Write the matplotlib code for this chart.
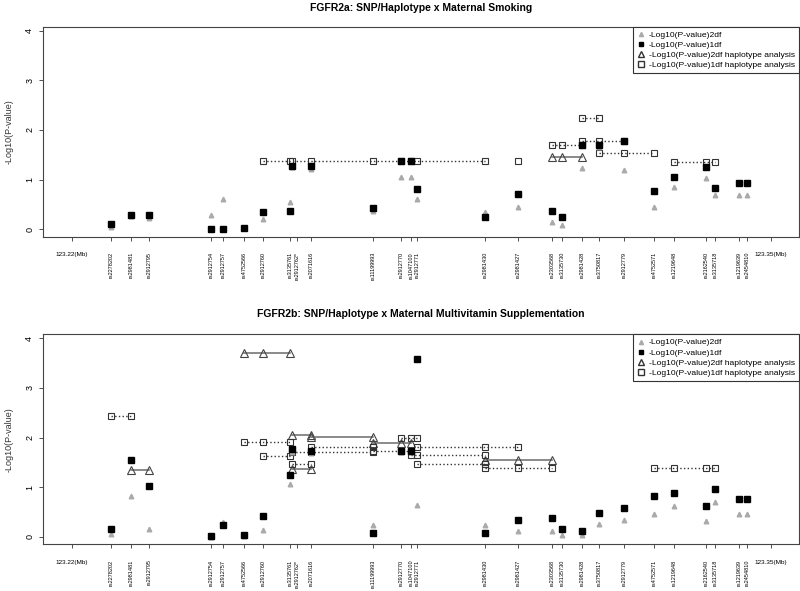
import matplotlib
matplotlib.use("Agg")
import matplotlib.pyplot as plt
from matplotlib.lines import Line2D

plt.rcParams['font.family'] = ['Liberation Sans', 'DejaVu Sans']

# SNPs along FGFR2 (position in Mb)
snps = ["rs2278202", "rs2981481", "rs2912795", "rs2912754", "rs2912757", "rs4752566",
        "rs2912760", "rs3135761", "rs2912762*", "rs2071616", "rs11199993", "rs2912770",
        "rs1047100", "rs2912771", "rs2981430", "rs2981427", "rs2303568", "rs3135730",
        "rs2981428", "rs3750817", "rs2912779", "rs4752571", "rs1219648", "rs2162540",
        "rs3135718", "rs1219639", "rs2454810"]
pos = [123.22725, 123.23102, 123.23437, 123.24595, 123.24818, 123.25203,
       123.25551, 123.26058, 123.26090, 123.26443, 123.27596, 123.28122,
       123.28308, 123.28414, 123.29689, 123.30302, 123.30935, 123.31120,
       123.31487, 123.31803, 123.32273, 123.32825, 123.33191, 123.33792,
       123.33965, 123.34411, 123.34560]
# label position (starred SNP label moved a bit to the right)
label_pos = pos[:8] + [123.26183] + pos[9:]

# FGFR2a: maternal smoking
smoke_2df = [0.05, 0.27, 0.23, 0.29, 0.60, 0.02, 0.20, 0.54, 1.25, 1.22, 0.36, 1.06, 1.06, 0.60,
             0.35, 0.44, 0.14, 0.09, 1.24, 1.65, 1.20, 0.44, 0.86, 1.04, 0.68, 0.70, 0.70]
smoke_1df = [0.11, 0.28, 0.28, 0.01, 0.01, 0.03, 0.35, 0.37, 1.28, 1.28, 0.42, 1.38, 1.38, 0.82,
             0.25, 0.72, 0.37, 0.24, 1.69, 1.69, 1.78, 0.78, 1.06, 1.26, 0.84, 0.93, 0.93]
smoke_h1_from = ["rs2912760", "rs2981427", "rs2303568", "rs2981428", "rs2981428", "rs3750817", "rs1219648"]
smoke_h1_to = ["rs2981430", "rs2981427", "rs2981428", "rs2912779", "rs3750817", "rs4752571", "rs3135718"]
smoke_h1_val = [1.37, 1.37, 1.69, 1.78, 2.25, 1.54, 1.35]
smoke_h2_from = ["rs2303568"]
smoke_h2_to = ["rs2981428"]
smoke_h2_val = [1.46]

# FGFR2b: maternal multivitamin supplementation
vit_2df = [0.05, 0.82, 0.15, 0.00, 0.29, 0.02, 0.13, 1.07, 1.70, 1.68, 0.24, 1.70, 1.70, 0.64,
           0.23, 0.11, 0.11, 0.04, 0.04, 0.25, 0.34, 0.47, 0.63, 0.32, 0.70, 0.47, 0.47]
vit_1df = [0.15, 1.55, 1.03, 0.01, 0.23, 0.04, 0.41, 1.24, 1.77, 1.72, 0.07, 1.73, 1.73, 3.58,
           0.08, 0.33, 0.37, 0.15, 0.12, 0.49, 0.58, 0.82, 0.89, 0.62, 0.97, 0.76, 0.76]
vit_h1_from = ["rs2278202", "rs4752566", "rs2912760", "rs2912762*", "rs2912762*", "rs2071616",
               "rs11199993", "rs2912770", "rs2912771", "rs1047100", "rs2912771", "rs2981430", "rs4752571"]
vit_h1_to = ["rs2981481", "rs3135761", "rs3135761", "rs2071616", "rs11199993", "rs11199993",
             "rs1047100", "rs2912771", "rs2981427", "rs2981430", "rs2981430", "rs2303568", "rs3135718"]
vit_h1_val = [2.44, 1.91, 1.63, 1.47, 1.70, 1.81, 1.73, 1.99, 1.80, 1.65, 1.46, 1.38, 1.38]
vit_h2_from = ["rs2981481", "rs4752566", "rs2912762*", "rs2071616", "rs2912762*", "rs11199993", "rs2981430"]
vit_h2_to = ["rs2912795", "rs3135761", "rs2071616", "rs11199993", "rs2071616", "rs1047100", "rs2303568"]
vit_h2_val = [1.35, 3.70, 2.05, 2.01, 1.37, 1.90, 1.55]

legend_labels = ["-Log10(P-value)2df", "-Log10(P-value)1df",
                 "-Log10(P-value)2df haplotype analysis", "-Log10(P-value)1df haplotype analysis"]

idx = {s: i for i, s in enumerate(snps)}


def panel(ax, v2, v1, h1_from, h1_to, h1_val, h2_from, h2_to, h2_val):
    # haplotype windows
    for a, b, v in zip(h2_from, h2_to, h2_val):
        xs = pos[idx[a]:idx[b] + 1]
        ax.plot(xs, [v] * len(xs), '-', color='#777777', lw=1.2, marker='^', ms=5.5,
                mfc='none', mec='#444444', mew=0.8)
    for a, b, v in zip(h1_from, h1_to, h1_val):
        xs = pos[idx[a]:idx[b] + 1]
        ax.plot(xs, [v] * len(xs), ':', color='#333333', lw=1.0, marker='s', ms=5,
                mfc='none', mec='#333333', mew=0.8)
    # single SNP results
    ax.plot(pos, v2, '^', color='#aaaaaa', ms=3.3, ls='none')
    ax.plot(pos, v1, 's', color='black', ms=4, ls='none')

    ax.set_xlim(123.21472, 123.3552)
    ax.set_ylim(-0.15, 4.08)
    ax.set_xticks([123.22] + label_pos + [123.35])
    labs = ax.set_xticklabels(["123.22(Mb)"] + snps + ["123.35(Mb)"])
    for t in labs[1:-1]:
        t.set_rotation(90)
        t.set_va('top')
        t.set_fontsize(4.0)
    for t in (labs[0], labs[-1]):
        t.set_fontsize(4.6)
    ax.tick_params(axis='x', length=3, width=0.6, pad=8, color='#333333')
    ax.set_yticks(range(5))
    ax.set_yticklabels([str(i) for i in range(5)], rotation=90, va='center', fontsize=6.5)
    ax.tick_params(axis='y', length=3, width=0.6, pad=3.5, color='#333333')
    for s in ax.spines.values():
        s.set_color('#444444')
        s.set_linewidth(0.8)

    handles = [Line2D([], [], ls='none', marker='^', color='#aaaaaa', ms=3),
               Line2D([], [], ls='none', marker='s', color='black', ms=3.5),
               Line2D([], [], ls='none', marker='^', mfc='none', mec='#333333', ms=5),
               Line2D([], [], ls='none', marker='s', mfc='none', mec='#333333', ms=4.5)]
    leg = ax.legend(handles, legend_labels, loc='upper right', borderaxespad=0, fancybox=False,
                    fontsize=6.1, labelspacing=0.25, handlelength=1.0, handletextpad=0.4,
                    borderpad=0.5, framealpha=1)
    leg.get_frame().set_edgecolor('#333333')
    leg.get_frame().set_linewidth(0.8)


fig = plt.figure(figsize=(8, 5.91), dpi=100)
ax1 = fig.add_axes([43.3 / 800, 1 - 236.7 / 591, (799 - 43.3) / 800, 210 / 591])
ax2 = fig.add_axes([43.3 / 800, 1 - 544.3 / 591, (799 - 43.3) / 800, 210 / 591])

panel(ax1, smoke_2df, smoke_1df, smoke_h1_from, smoke_h1_to, smoke_h1_val,
      smoke_h2_from, smoke_h2_to, smoke_h2_val)
panel(ax2, vit_2df, vit_1df, vit_h1_from, vit_h1_to, vit_h1_val,
      vit_h2_from, vit_h2_to, vit_h2_val)

fig.text(421 / 800, 1 - 8 / 591, "FGFR2a: SNP/Haplotype x Maternal Smoking",
         ha='center', va='center', fontsize=7.5, fontweight='bold')
fig.text(421 / 800, 1 - 314 / 591, "FGFR2b: SNP/Haplotype x Maternal Multivitamin Supplementation",
         ha='center', va='center', fontsize=7.5, fontweight='bold')
fig.text(9.5 / 800, 1 - 131.7 / 591, "-Log10(P-value)", rotation=90, ha='center', va='center',
         fontsize=6.5, color='#333333')
fig.text(9.5 / 800, 1 - 439.3 / 591, "-Log10(P-value)", rotation=90, ha='center', va='center',
         fontsize=6.5, color='#333333')

fig.savefig("out.png", dpi=100)
